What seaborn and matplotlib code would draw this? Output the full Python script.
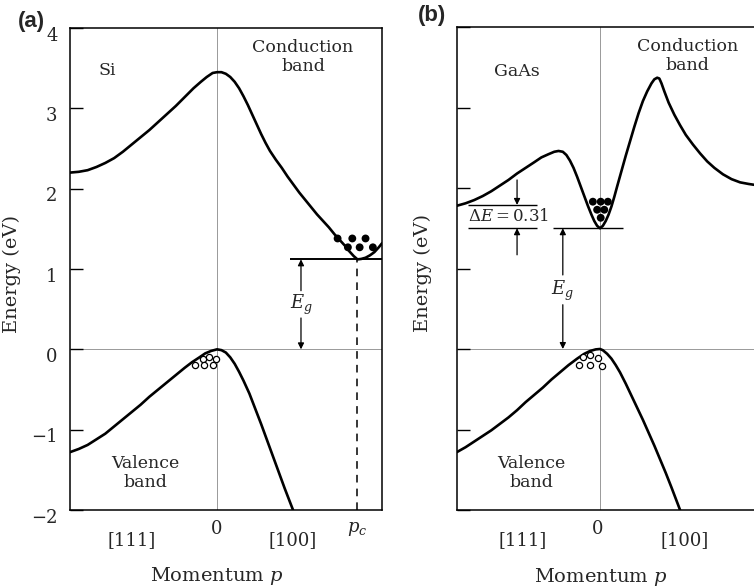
import matplotlib
matplotlib.use("Agg")
import matplotlib.pyplot as plt
from matplotlib.transforms import ScaledTranslation
import seaborn as sns

# ---------------- data ----------------
# Si conduction band (momentum in arbitrary units, 0 = zone centre)
si_cb_p = [-1.00, -0.94, -0.88, -0.82, -0.76, -0.70, -0.64, -0.58, -0.52, -0.46, -0.40,
           -0.34, -0.28, -0.22, -0.16, -0.11, -0.07, -0.03, 0.00, 0.03, 0.06, 0.09,
           0.12, 0.15, 0.18, 0.21, 0.24, 0.27, 0.30, 0.33, 0.36, 0.40, 0.44, 0.48,
           0.52, 0.56, 0.60, 0.64, 0.68, 0.72, 0.76, 0.80, 0.84, 0.87, 0.90, 0.93,
           0.955, 0.98, 1.01, 1.04, 1.07, 1.10, 1.122]
si_cb_e = [2.20, 2.21, 2.23, 2.27, 2.32, 2.38, 2.46, 2.55, 2.64, 2.73, 2.83,
           2.93, 3.03, 3.14, 3.25, 3.33, 3.39, 3.44, 3.45, 3.45, 3.43, 3.39,
           3.33, 3.25, 3.15, 3.04, 2.92, 2.80, 2.68, 2.57, 2.47, 2.36, 2.26, 2.15,
           2.05, 1.95, 1.86, 1.77, 1.68, 1.60, 1.52, 1.43, 1.35, 1.29, 1.22, 1.16,
           1.12, 1.125, 1.14, 1.17, 1.21, 1.27, 1.32]
# Si valence band
si_vb_p = [-1.00, -0.94, -0.88, -0.82, -0.76, -0.70, -0.64, -0.58, -0.52, -0.46, -0.40,
           -0.34, -0.28, -0.22, -0.17, -0.12, -0.08, -0.04, 0.00, 0.03, 0.06, 0.09,
           0.12, 0.15, 0.18, 0.22, 0.26, 0.30, 0.34, 0.38, 0.42, 0.46, 0.50, 0.517]
si_vb_e = [-1.28, -1.24, -1.19, -1.12, -1.05, -0.96, -0.87, -0.78, -0.69, -0.59, -0.50,
           -0.41, -0.32, -0.23, -0.16, -0.10, -0.05, -0.02, 0.00, -0.01, -0.04, -0.10,
           -0.18, -0.28, -0.39, -0.55, -0.74, -0.93, -1.13, -1.33, -1.53, -1.73, -1.92,
           -2.00]
# Si carriers
si_elec_p = [0.82, 0.92, 1.01, 0.89, 0.97, 1.06]
si_elec_e = [1.38, 1.38, 1.38, 1.27, 1.27, 1.27]
si_hole_p = [-0.095, -0.054, -0.007, -0.15, -0.088, -0.027]
si_hole_e = [-0.12, -0.10, -0.12, -0.20, -0.20, -0.20]
si_pc = 0.952
si_gap = 1.12

# GaAs conduction band
ga_cb_p = [-1.00, -0.94, -0.88, -0.82, -0.76, -0.70, -0.64, -0.58, -0.52, -0.46, -0.41,
           -0.36, -0.32, -0.29, -0.26, -0.235, -0.21, -0.185, -0.16, -0.135, -0.11,
           -0.085, -0.06, -0.04, -0.02, 0.00, 0.02, 0.04, 0.06, 0.08, 0.10, 0.12, 0.15,
           0.18, 0.21, 0.24, 0.27, 0.30, 0.33, 0.36, 0.38, 0.40, 0.415, 0.43, 0.45,
           0.48, 0.52, 0.56, 0.60, 0.65, 0.70, 0.75, 0.80, 0.86, 0.92, 0.98, 1.04, 1.077]
ga_cb_e = [1.78, 1.81, 1.85, 1.90, 1.96, 2.03, 2.10, 2.18, 2.25, 2.32, 2.38,
           2.42, 2.45, 2.46, 2.45, 2.41, 2.34, 2.25, 2.14, 2.02, 1.90,
           1.78, 1.67, 1.59, 1.53, 1.50, 1.53, 1.59, 1.67, 1.77, 1.89, 2.02, 2.21,
           2.40, 2.58, 2.76, 2.93, 3.08, 3.20, 3.30, 3.35, 3.37, 3.36, 3.30, 3.20,
           3.06, 2.91, 2.78, 2.66, 2.54, 2.43, 2.33, 2.25, 2.17, 2.11, 2.07, 2.05, 2.04]
# GaAs valence band
ga_vb_p = [-1.00, -0.94, -0.88, -0.82, -0.76, -0.70, -0.64, -0.58, -0.52, -0.46, -0.40,
           -0.34, -0.28, -0.22, -0.16, -0.11, -0.07, -0.03, 0.00, 0.02, 0.05, 0.08,
           0.11, 0.14, 0.18, 0.22, 0.26, 0.30, 0.34, 0.38, 0.42, 0.46, 0.50, 0.53, 0.56]
ga_vb_e = [-1.28, -1.22, -1.15, -1.08, -1.01, -0.93, -0.85, -0.76, -0.66, -0.57, -0.48,
           -0.38, -0.29, -0.20, -0.12, -0.06, -0.025, -0.005, 0.00, -0.015, -0.06, -0.12,
           -0.20, -0.29, -0.43, -0.58, -0.73, -0.88, -1.04, -1.20, -1.37, -1.54, -1.72,
           -1.86, -2.00]
ga_elec_p = [-0.05, 0.005, 0.055, -0.02, 0.03, 0.005]
ga_elec_e = [1.83, 1.83, 1.83, 1.73, 1.73, 1.63]
ga_hole_p = [-0.12, -0.07, -0.015, -0.15, -0.07, 0.015]
ga_hole_e = [-0.10, -0.08, -0.11, -0.20, -0.20, -0.21]
ga_gap = 1.50
ga_dE_level = 1.79

# tick labels
y_ticks = [-2, -1, 0, 1, 2, 3, 4]
si_xtick_pos = [-0.578, 0.0, 0.517, si_pc]
si_xtick_lab = ["[111]", "0", "[100]", "$p_c$"]
ga_xtick_pos = [-0.538, -0.014, 0.594]
ga_xtick_lab = ["[111]", "0", "[100]"]

# ---------------- style ----------------
sns.set_theme(style="white")
plt.rcParams["font.family"] = ["DejaVu Serif"]
plt.rcParams["mathtext.fontset"] = "dejavuserif"
plt.rcParams["axes.edgecolor"] = "black"
plt.rcParams["axes.linewidth"] = 1.1

W, H = 754, 587
fig = plt.figure(figsize=(W / 100, H / 100), dpi=100)
ax1 = fig.add_axes([70 / W, 77 / H, 312 / W, 482 / H])
ax2 = fig.add_axes([457 / W, 77 / H, 297 / W, 483 / H])

LW = 1.9
FS = 12.5
arrow_kw = dict(arrowstyle="-|>", color="black", lw=0.9, mutation_scale=9,
                shrinkA=0, shrinkB=0)


def eg_arrows(ax, x, top, lab_y, up_tail, down_start):
    ax.annotate("", xy=(x, top), xytext=(x, up_tail), arrowprops=arrow_kw)
    ax.annotate("", xy=(x, 0.0), xytext=(x, down_start), arrowprops=arrow_kw)
    ax.text(x, lab_y, "$E_g$", ha="center", va="center", fontsize=13)


# ---------------- panel (a) Si ----------------
ax = ax1
ax.set_xlim(-1.0, 1.122)
ax.set_ylim(-2, 4)
ax.axvline(0, color="0.6", lw=0.7, zorder=0)
ax.axhline(0, color="0.6", lw=0.7, zorder=0)
sns.lineplot(x=si_cb_p, y=si_cb_e, ax=ax, color="black", lw=LW, sort=False, estimator=None)
sns.lineplot(x=si_vb_p, y=si_vb_e, ax=ax, color="black", lw=LW, sort=False, estimator=None)
sns.scatterplot(x=si_elec_p, y=si_elec_e, ax=ax, color="black", s=32, edgecolor="none",
                legend=False, zorder=3)
sns.scatterplot(x=si_hole_p, y=si_hole_e, ax=ax, color="white", edgecolor="black", s=20,
                linewidth=0.9, legend=False, zorder=3)
ax.hlines(si_gap, 0.497, 1.122, color="black", lw=1.4)
ax.vlines(si_pc, -2, si_gap, color="black", lw=1.1, linestyles=(0, (5, 4)))
eg_arrows(ax, 0.571, si_gap, 0.55, 0.73, 0.39)
ax.text(-0.75, 3.47, "Si", ha="center", va="center", fontsize=FS)
ax.text(0.585, 3.64, "Conduction\nband", ha="center", va="center", fontsize=FS,
        linespacing=1.1)
ax.text(-0.49, -1.54, "Valence\nband", ha="center", va="center", fontsize=FS,
        linespacing=1.1)

# ---------------- panel (b) GaAs ----------------
ax = ax2
ax.set_xlim(-1.0, 1.077)
ax.set_ylim(-2, 4)
ax.axvline(0, color="0.6", lw=0.7, zorder=0)
ax.axhline(0, color="0.6", lw=0.7, zorder=0)
sns.lineplot(x=ga_cb_p, y=ga_cb_e, ax=ax, color="black", lw=LW, sort=False, estimator=None)
sns.lineplot(x=ga_vb_p, y=ga_vb_e, ax=ax, color="black", lw=LW, sort=False, estimator=None)
sns.scatterplot(x=ga_elec_p, y=ga_elec_e, ax=ax, color="black", s=32, edgecolor="none",
                legend=False, zorder=3)
sns.scatterplot(x=ga_hole_p, y=ga_hole_e, ax=ax, color="white", edgecolor="black", s=20,
                linewidth=0.9, legend=False, zorder=3)
ax.hlines(ga_gap, -0.33, 0.16, color="black", lw=1.0)
ax.hlines([ga_dE_level, ga_gap], -0.92, -0.44, color="black", lw=1.0)
ax.text(-0.64, (ga_dE_level + ga_gap) / 2, r"$\Delta E = 0.31$", ha="center", va="center",
        fontsize=12)
ax.annotate("", xy=(-0.58, ga_dE_level), xytext=(-0.58, 2.10), arrowprops=arrow_kw)
ax.annotate("", xy=(-0.58, ga_gap), xytext=(-0.58, 1.17), arrowprops=arrow_kw)
eg_arrows(ax, -0.26, ga_gap, 0.72, 0.92, 0.55)
ax.text(-0.58, 3.45, "GaAs", ha="center", va="center", fontsize=FS)
ax.text(0.61, 3.64, "Conduction\nband", ha="center", va="center", fontsize=FS,
        linespacing=1.1)
ax.text(-0.48, -1.54, "Valence\nband", ha="center", va="center", fontsize=FS,
        linespacing=1.1)
ax.spines["right"].set_visible(False)

# ---------------- axes decoration ----------------
for ax, pos, lab, labx, ylabx in [(ax1, si_xtick_pos, si_xtick_lab, 0.471, -0.157),
                                  (ax2, ga_xtick_pos, ga_xtick_lab, 0.485, -0.084)]:
    ax.set_yticks(y_ticks)
    ax.tick_params(axis="y", direction="in", length=9, width=1.0, left=True,
                   color="black", pad=9, labelsize=13)
    ax.set_xticks(pos, lab)
    ax.tick_params(axis="x", length=0, labelsize=13)
    for t, l in zip(ax.xaxis.get_major_ticks(), lab):
        t.set_pad(7 if l in ("0", "$p_c$") else 15)
    ax.set_xlabel("Momentum $p$", fontsize=14)
    ax.xaxis.set_label_coords(labx, -0.115)
    ax.set_ylabel("Energy (eV)", fontsize=14)
    ax.yaxis.set_label_coords(ylabx, 0.49)
    ax.grid(False)

ax2.tick_params(axis="y", labelleft=False)
shift = ScaledTranslation(0, -4 / 72, fig.dpi_scale_trans)
for lbl in ax1.get_yticklabels():
    lbl.set_transform(lbl.get_transform() + shift)

fig.text(31 / W, 1 - 21 / H, "(a)", ha="center", va="center", fontsize=16,
         fontweight="bold", family=["Liberation Sans", "DejaVu Sans"])
fig.text(432 / W, 1 - 16 / H, "(b)", ha="center", va="center", fontsize=16,
         fontweight="bold", family=["Liberation Sans", "DejaVu Sans"])

fig.savefig("out.png", dpi=100)
